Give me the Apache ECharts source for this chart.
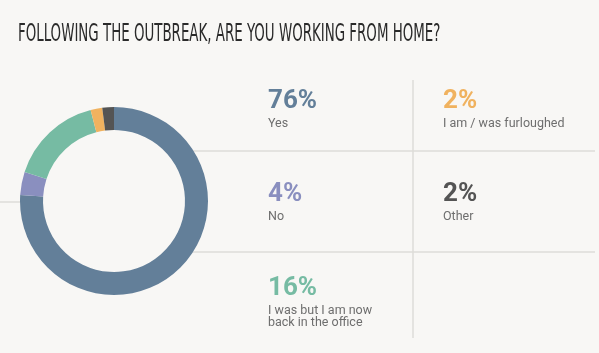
<!DOCTYPE html>
<html>
<head>
<meta charset="utf-8">
<script src="https://cdn.jsdelivr.net/npm/echarts@6/dist/echarts.min.js"></script>
<style>
    html, body { margin: 0; padding: 0; background: #f8f7f5; }
    #chart { width: 599px; height: 353px; }
</style>
</head>
<body>
<div id="chart"></div>
<script>
// answers in clockwise order from 12 o'clock
var answers = ['Yes', 'No', 'I was but I am now\nback in the office', 'I am / was furloughed', 'Other'];
var shares = [76, 4, 16, 2, 2];
var colors = ['#637f99', '#8a8fbf', '#76bba3', '#f0b25f', '#545454'];

// which cell of the legend grid each answer sits in: [col, row]
var cells = [[0, 0], [0, 1], [0, 2], [1, 0], [1, 1]];

var colX = [268, 443];
var rowY = [88, 181, 275];
var lineColor = '#dedcd9';

var chart = echarts.init(document.getElementById('chart'));

var graphics = [
    {
        type: 'text', x: 18, y: 23, z: 10, scaleX: 0.62,
        style: {
            text: 'FOLLOWING THE OUTBREAK, ARE YOU WORKING FROM HOME?',
            font: '24px "DejaVu Sans Condensed", sans-serif',
            fill: '#2a2a2a',
            verticalAlign: 'top'
        }
    },
    { type: 'line', z: -1, shape: { x1: 190, y1: 151, x2: 595, y2: 151 }, style: { stroke: lineColor, lineWidth: 1.5 } },
    { type: 'line', z: -1, shape: { x1: 190, y1: 252, x2: 595, y2: 252 }, style: { stroke: lineColor, lineWidth: 1.5 } },
    { type: 'line', z: -1, shape: { x1: 0, y1: 202, x2: 25, y2: 202 }, style: { stroke: lineColor, lineWidth: 1.5 } },
    { type: 'line', z: -1, shape: { x1: 413, y1: 80, x2: 413, y2: 338 }, style: { stroke: lineColor, lineWidth: 1.5 } }
];

answers.forEach(function (name, i) {
    var x = colX[cells[i][0]];
    var y = rowY[cells[i][1]];
    graphics.push({
        type: 'text', x: x, y: y,
        style: {
            text: shares[i] + '%',
            font: 'bold 26px Roboto, sans-serif',
            fill: colors[i],
            verticalAlign: 'top'
        }
    });
    graphics.push({
        type: 'text', x: x, y: y + 30,
        style: {
            text: name,
            font: '12.5px Roboto, sans-serif',
            fill: '#6e6e6e',
            lineHeight: 12,
            verticalAlign: 'top'
        }
    });
});

chart.setOption({
    backgroundColor: '#f8f7f5',
    animation: false,
    graphic: graphics,
    series: [
        {
            type: 'pie',
            center: [114, 201],
            radius: [71, 94],
            startAngle: 90,
            clockwise: true,
            silent: true,
            label: { show: false },
            labelLine: { show: false },
            itemStyle: { borderWidth: 0 },
            data: answers.map(function (name, i) {
                return { name: name, value: shares[i], itemStyle: { color: colors[i] } };
            })
        }
    ]
});
</script>
</body>
</html>
